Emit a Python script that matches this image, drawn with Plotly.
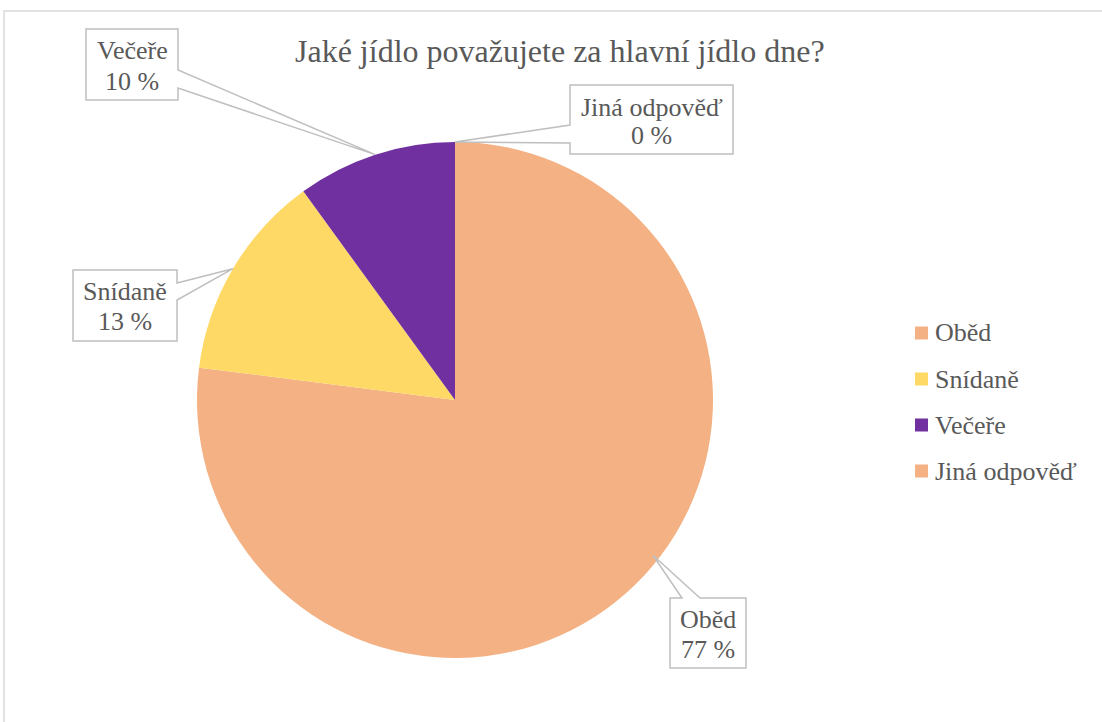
import math
import plotly.graph_objects as go

# ---- data ----
categories = ["Oběd", "Snídaně", "Večeře", "Jiná odpověď"]
values = [77, 13, 10, 0]
colors = ["#F4B183", "#FFD966", "#7030A0", "#F4B183"]
title_text = "Jaké jídlo považujete za hlavní jídlo dne?"

# ---- layout constants ----
W, H = 1102, 722
CX, CY, R = 455, 400, 258
FONT = "Liberation Serif, Times New Roman, serif"
TXT = "#595959"
GRID = "#D9D9D9"
CALL = "#BFBFBF"


def X(px):
    return px / W


def Y(py):
    return 1 - py / H


fig = go.Figure()
fig.add_trace(go.Pie(
    labels=categories,
    values=values,
    marker=dict(colors=colors, line=dict(width=0)),
    sort=False,
    direction="clockwise",
    rotation=0,
    textinfo="none",
    hoverinfo="label+percent",
    showlegend=False,
    domain=dict(x=[X(CX - R), X(CX + R)], y=[Y(CY + R), Y(CY - R)]),
))

# mid angles of slices (clockwise from 12 o'clock), from data
total = sum(values)
mids = []
acc = 0
for v in values:
    mids.append((acc + v / 2) / total * 360)
    acc += v


def anchor(angle_deg, rfrac=1.0):
    a = math.radians(angle_deg)
    return CX + R * rfrac * math.sin(a), CY - R * rfrac * math.cos(a)


shapes = []
annotations = []

# chart border
shapes.append(dict(type="rect", xref="paper", yref="paper",
                   x0=X(4), x1=X(1110), y0=Y(730), y1=Y(11),
                   line=dict(color=GRID, width=1.5), fillcolor="rgba(0,0,0,0)"))

# callouts: box (x0,y0,x1,y1), side of wedge, wedge base positions, line centers
callouts = {
    "Oběd": dict(box=(670, 598, 746, 668), side="top", base=(682, 700),
                 angle=mids[0] - 10.5, rf=0.975, lines=(619, 649)),
    "Snídaně": dict(box=(73, 270, 177, 341), side="right", base=(283, 300),
                    angle=mids[1], rf=1.0, lines=(291, 321)),
    "Večeře": dict(box=(86, 29, 178, 100), side="right", base=(70, 88),
                   angle=mids[2], rf=1.0, lines=(51, 81)),
    "Jiná odpověď": dict(box=(570, 85, 733, 154), side="left", base=(125, 143),
                         angle=mids[3], rf=1.0, lines=(107, 135)),
}

for cat, val in zip(categories, values):
    c = callouts[cat]
    x0, y0, x1, y1 = c["box"]
    ax, ay = anchor(c["angle"], c["rf"])
    b0, b1 = c["base"]
    if c["side"] == "right":
        pts = [(x0, y0), (x1, y0), (x1, b0), (ax, ay), (x1, b1), (x1, y1), (x0, y1)]
    elif c["side"] == "left":
        pts = [(x0, y0), (x1, y0), (x1, y1), (x0, y1), (x0, b1), (ax, ay), (x0, b0)]
    else:  # top
        pts = [(x0, y0), (b0, y0), (ax, ay), (b1, y0), (x1, y0), (x1, y1), (x0, y1)]
    path = "M " + " L ".join(f"{X(p[0]):.5f},{Y(p[1]):.5f}" for p in pts) + " Z"
    shapes.append(dict(type="path", xref="paper", yref="paper", path=path,
                       fillcolor="white", line=dict(color=CALL, width=1.5),
                       layer="above"))
    cx = (x0 + x1) / 2
    for txt, ly in zip([cat, f"{val} %"], c["lines"]):
        annotations.append(dict(x=X(cx), y=Y(ly), xref="paper", yref="paper",
                                text=txt, showarrow=False, xanchor="center",
                                yanchor="middle",
                                font=dict(family=FONT, size=26, color=TXT)))

# legend (manual, to match spacing)
leg_y = [333, 379, 425, 471]
for cat, col, ly in zip(categories, colors, leg_y):
    shapes.append(dict(type="rect", xref="paper", yref="paper",
                       x0=X(915), x1=X(928), y0=Y(ly + 6.5), y1=Y(ly - 6.5),
                       fillcolor=col, line=dict(width=0)))
    annotations.append(dict(x=X(933), y=Y(ly), xref="paper", yref="paper",
                            text=cat, showarrow=False, xanchor="left",
                            yanchor="middle",
                            font=dict(family=FONT, size=26, color=TXT)))

# title
annotations.append(dict(x=X(560), y=Y(51), xref="paper", yref="paper",
                        text=title_text, showarrow=False, xanchor="center",
                        yanchor="middle",
                        font=dict(family=FONT, size=32, color=TXT)))

fig.update_layout(
    width=W, height=H,
    margin=dict(l=0, r=0, t=0, b=0),
    paper_bgcolor="white", plot_bgcolor="white",
    shapes=shapes, annotations=annotations,
    showlegend=False,
)

fig.write_html(
    "out.html",
    config={"displayModeBar": False},
    post_script="document.body.style.margin='0';document.body.style.overflow='hidden';",
)
